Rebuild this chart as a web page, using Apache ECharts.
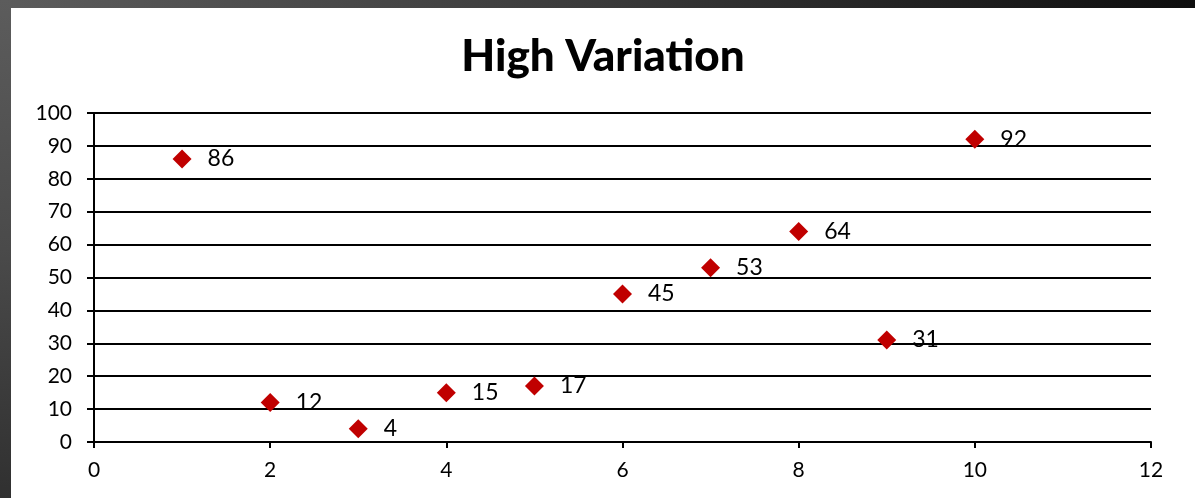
<!DOCTYPE html>
<html>
<head>
<meta charset="utf-8">
<script src="https://cdn.jsdelivr.net/npm/echarts@6/dist/echarts.min.js"></script>
<style>
  html, body { margin: 0; padding: 0; width: 1195px; height: 498px; overflow: hidden; }
  body { position: relative; background: #1a1a1a; }
  #topband { position: absolute; left: 0; top: 0; width: 1195px; height: 8px;
    background: linear-gradient(90deg, #5c5c5c 0%, #3a3a3a 50%, #0e0e0e 100%); }
  #leftband { position: absolute; left: 0; top: 0; width: 11px; height: 498px;
    background: linear-gradient(180deg, #5c5c5c 0%, #4a4a4a 50%, #303030 100%); }
  #chart { position: absolute; left: 11px; top: 8px; width: 1184px; height: 490px; background: #ffffff; }
</style>
</head>
<body>
<div id="topband"></div>
<div id="leftband"></div>
<div id="chart"></div>
<script>
// Scatter values: x position and measured value for each point
const xValues = [1, 2, 3, 4, 5, 6, 7, 8, 9, 10];
const yValues = [86, 12, 4, 15, 17, 45, 53, 64, 31, 92];
const titleText = 'High Variation';

const points = xValues.map((x, i) => [x, yValues[i]]);
const fontFamily = 'Lato, "Open Sans", sans-serif';

const chart = echarts.init(document.getElementById('chart'), null, { renderer: 'canvas' });
chart.setOption({
  animation: false,
  backgroundColor: '#ffffff',
  title: {
    text: titleText,
    left: 'center',
    top: 22,
    textStyle: { fontFamily: fontFamily, fontSize: 44, fontWeight: 900, color: '#000000' }
  },
  grid: { left: 83, right: 44, top: 105, bottom: 56, containLabel: false },
  xAxis: {
    type: 'value',
    min: 0, max: 12, interval: 2,
    axisLine: { show: true, onZero: false, lineStyle: { color: '#000000', width: 2 } },
    axisTick: { show: true, length: 6, inside: false, lineStyle: { color: '#000000', width: 2 } },
    axisLabel: { margin: 18, fontFamily: fontFamily, fontSize: 21, color: '#000000' },
    splitLine: { show: false }
  },
  yAxis: {
    type: 'value',
    min: 0, max: 100, interval: 10,
    axisLine: { show: true, onZero: false, lineStyle: { color: '#000000', width: 2 } },
    axisTick: { show: true, length: 7, inside: false, lineStyle: { color: '#000000', width: 2 } },
    axisLabel: { margin: 22, fontFamily: fontFamily, fontSize: 21, color: '#000000' },
    splitLine: { show: true, lineStyle: { color: '#000000', width: 2 } }
  },
  series: [{
    type: 'scatter',
    data: points,
    symbol: 'diamond',
    symbolSize: [19, 19],
    itemStyle: { color: '#c00000', opacity: 1 },
    label: {
      show: true,
      position: 'right',
      distance: 16,
      formatter: p => String(p.value[1]),
      fontFamily: fontFamily,
      fontSize: 23,
      color: '#000000',
      opacity: 1
    }
  }]
});
</script>
</body>
</html>
